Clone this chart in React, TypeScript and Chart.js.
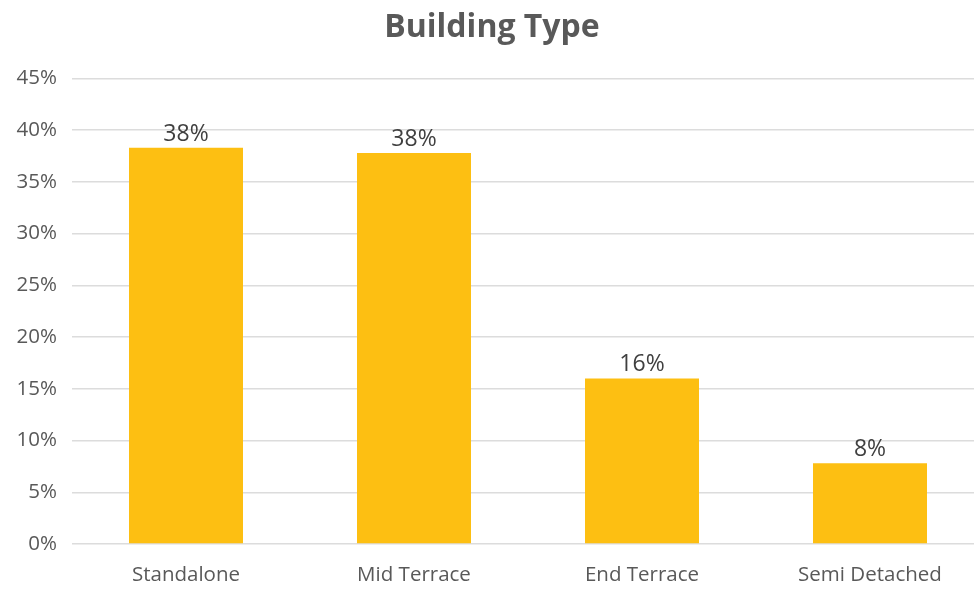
import React, { useEffect, useRef } from "react";
import { Chart, registerables } from "chart.js";

Chart.register(...registerables);

const categories = ["Standalone", "Mid Terrace", "End Terrace", "Semi Detached"];
const shares = [38.3, 37.8, 16.0, 7.8];
const yTicks = [0, 5, 10, 15, 20, 25, 30, 35, 40, 45];
const chartTitle = "Building Type";

const FONT = "'Open Sans', 'Liberation Sans', sans-serif";

const valueLabels = {
  id: "valueLabels",
  afterDatasetsDraw(chart: any) {
    const ctx = chart.ctx;
    const meta = chart.getDatasetMeta(0);
    ctx.save();
    ctx.font = `23px ${FONT}`;
    ctx.fillStyle = "#404040";
    ctx.textAlign = "center";
    ctx.textBaseline = "alphabetic";
    meta.data.forEach((bar: any, i: number) => {
      const v = shares[i];
      ctx.fillText(`${Math.round(v)}%`, bar.x, bar.y - 7);
    });
    ctx.restore();
  },
};

export default function App() {
  const ref = useRef<HTMLCanvasElement | null>(null);

  useEffect(() => {
    document.body.style.margin = "0";
    const canvas = ref.current!;
    const chart = new Chart(canvas, {
      type: "bar",
      data: {
        labels: categories,
        datasets: [
          {
            data: shares,
            backgroundColor: "#FDBF12",
            categoryPercentage: 1,
            barPercentage: 0.5,
          },
        ],
      },
      options: {
        responsive: false,
        animation: false,
        layout: { padding: { left: 0, right: 6, top: 0, bottom: 0 } },
        plugins: {
          legend: { display: false },
          tooltip: { enabled: false },
          title: {
            display: true,
            text: chartTitle,
            color: "#595959",
            font: { family: FONT, size: 32, weight: "bold", lineHeight: 1.2 },
            padding: { top: 9, bottom: 31 },
          },
        },
        scales: {
          x: {
            grid: { display: false, drawTicks: false },
            border: { display: false },
            ticks: {
              color: "#595959",
              font: { family: FONT, size: 20.5 },
              padding: 19,
            },
            afterFit(scale: any) {
              scale.height = 45;
            },
          },
          y: {
            min: 0,
            max: 45,
            afterBuildTicks(scale: any) {
              scale.ticks = yTicks.map((v) => ({ value: v }));
            },
            grid: { color: "#DCDCDC", lineWidth: 1.5, drawTicks: false },
            border: { display: false },
            ticks: {
              color: "#595959",
              font: { family: FONT, size: 20.5 },
              padding: 15,
              callback: (v: any) => `${v}%`,
            },
            afterFit(scale: any) {
              scale.width = 72;
            },
          },
        },
      },
      plugins: [valueLabels],
    });
    return () => chart.destroy();
  }, []);

  return (
    <div style={{ position: "fixed", left: 0, top: 0, width: 974, height: 589, overflow: "hidden", background: "#fff" }}>
      <canvas ref={ref} width={990} height={589} style={{ display: "block" }} />
    </div>
  );
}
